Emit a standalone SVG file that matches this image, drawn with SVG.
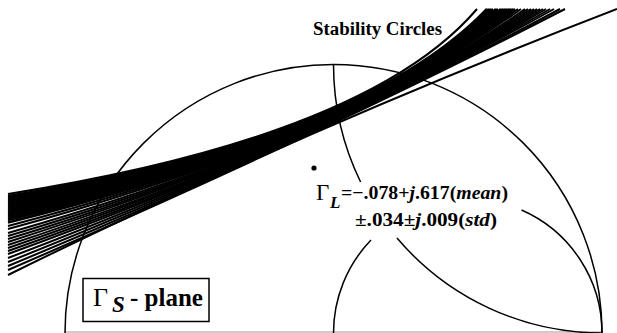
<svg xmlns="http://www.w3.org/2000/svg" width="617" height="333" viewBox="0 0 617 333">
<style>
.arc{fill:none;stroke:#000;stroke-width:1.5}
.sc{fill:none;stroke:#000;stroke-width:2.6}
.sl{fill:none;stroke:#000;stroke-width:2}
.t{font-family:"Liberation Serif","Times New Roman",serif;fill:#000}
.b{font-weight:bold}
.i{font-style:italic}
</style>
<rect width="617" height="333" fill="#fff"/>
<g id="smith-chart">
<line x1="65" y1="332" x2="602" y2="332" stroke="#999" stroke-width="1.2"/>
<path class="arc" d="M65 333 A268.5 268.5 0 0 1 602 333"/>
<path class="arc" d="M333.5 64.5 A268.5 268.5 0 0 0 360.6 182"/>
<path class="arc" d="M397 238 A268.5 268.5 0 0 0 602 333"/>
<path class="arc" d="M333.5 333 A134.25 134.25 0 0 1 371 240"/>
<path class="arc" d="M521.5 210 A134.25 134.25 0 0 1 602 333"/>
</g>
<g id="stability-circles">
<path class="sl" d="M8 194 Q367.5 137 477 9"/>
<path class="sc" d="M8 196 Q363 138.5 487 9"/>
<path class="sc" d="M8 198 Q362 139 489 9"/>
<path class="sc" d="M8 200 Q360.5 139 491 9"/>
<path class="sc" d="M8 202 Q359.5 139 493 9"/>
<path class="sc" d="M8 204 Q358 139 496 9"/>
<path class="sc" d="M8 206 Q357 139 498 9"/>
<path class="sc" d="M8 208 Q355.5 139 501 9"/>
<path class="sc" d="M8 210 Q354.5 138.5 503 9"/>
<path class="sc" d="M8 212 Q353.5 138.5 505 9"/>
<path class="sc" d="M8 214 Q353 138 507 9"/>
<path class="sc" d="M8 216 Q352 138 509 9"/>
<path class="sc" d="M8 218 Q350.5 137.5 511 9"/>
<path class="sc" d="M8 220 Q349.5 137 513 9"/>
<path class="sc" d="M8 222.5 Q348.5 137 515 9"/>
<path class="sl" d="M8 226 Q347 137 518 9"/>
<path class="sl" d="M8 229 Q345.5 137 521 9"/>
<path class="sl" d="M8 233 Q343.5 137 525 9"/>
<path class="sl" d="M8 236 Q342 137 528 9"/>
<path class="sl" d="M8 239 Q340.5 137 531 9"/>
<path class="sl" d="M8 242 Q339 136.5 534 9"/>
<path class="sl" d="M8 245 Q337.5 136.5 537 9"/>
<path class="sl" d="M8 248 Q336 136 540 9"/>
<path class="sl" d="M8 251 Q334.5 136 543 9"/>
<path class="sl" d="M8 254 Q333 135.5 546 9"/>
<path class="sl" d="M8 258 Q331 135 550 9"/>
<path class="sl" d="M8 262 Q329 134.5 554 9"/>
<path class="sl" d="M8 266 Q326 134 560 9"/>
<path class="sl" d="M8 270 Q323.5 133.5 565 9"/>
<path class="sl" d="M8 275 Q297.5 132 617 9"/>
</g>
<g id="title">
<text class="t b" x="313" y="35" font-size="18" textLength="129" lengthAdjust="spacingAndGlyphs">Stability Circles</text>
</g>
<g id="gamma-l-point">
<circle cx="314" cy="168" r="2.6" fill="#000"/>
<text class="t" x="316" y="200" font-size="23">Γ</text>
<text class="t b i" x="330" y="208" font-size="17">L</text>
<text class="t b" x="341" y="199" font-size="18.5" textLength="167" lengthAdjust="spacingAndGlyphs">=−.078+<tspan class="i">j</tspan>.617(<tspan class="i">mean</tspan>)</text>
<text class="t b" x="355" y="226" font-size="18" textLength="142" lengthAdjust="spacingAndGlyphs">±.034±<tspan class="i">j</tspan>.009(<tspan class="i">std</tspan>)</text>
</g>
<g id="gamma-s-plane">
<rect x="83" y="278.5" width="126" height="43" fill="#fff" stroke="#000" stroke-width="1.5"/>
<text class="t" x="93" y="305.5" font-size="26">Γ</text>
<text class="t b i" x="112" y="312" font-size="23">S</text>
<text class="t b" x="130" y="305.5" font-size="25">- plane</text>
</g>
</svg>
